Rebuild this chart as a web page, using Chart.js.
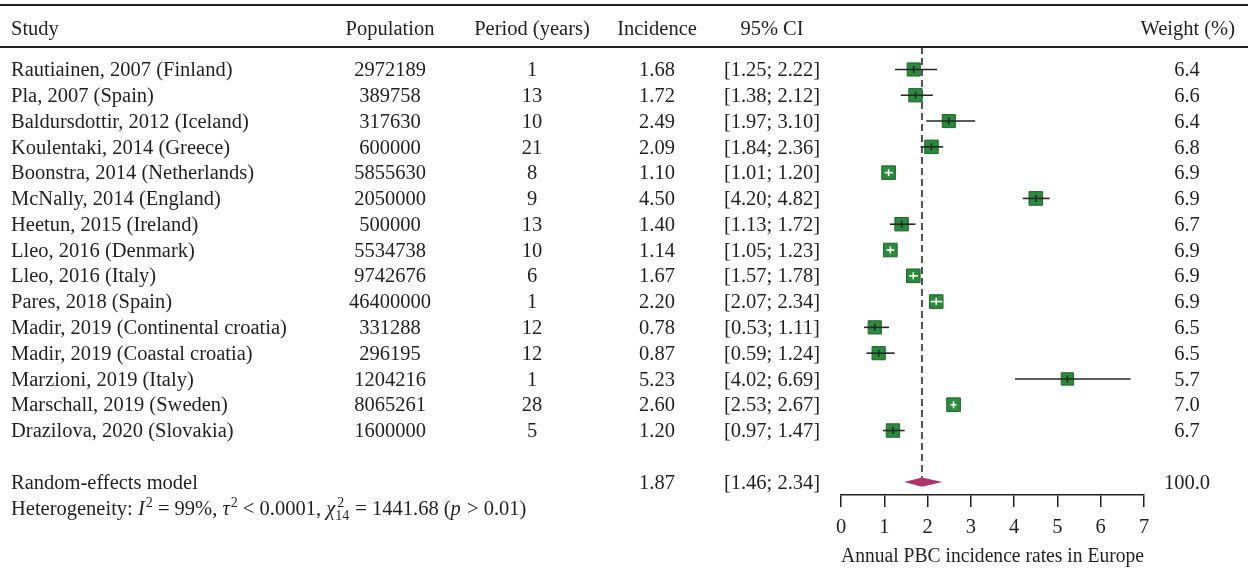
<!DOCTYPE html>
<html>
<head>
<meta charset="utf-8">
<title>Annual PBC incidence rates in Europe</title>
<script src="https://cdn.jsdelivr.net/npm/chart.js@4.4.1/dist/chart.umd.min.js"></script>
<style>
  html, body { margin: 0; padding: 0; background: #ffffff; }
  #wrap { width: 1248px; height: 569px; position: relative; }
  canvas { display: block; }
</style>
</head>
<body>
<div id="wrap"><canvas id="forest" width="1248" height="569"></canvas></div>
<script>
// ---- Study data ----
const studies = [
  'Rautiainen, 2007 (Finland)',
  'Pla, 2007 (Spain)',
  'Baldursdottir, 2012 (Iceland)',
  'Koulentaki, 2014 (Greece)',
  'Boonstra, 2014 (Netherlands)',
  'McNally, 2014 (England)',
  'Heetun, 2015 (Ireland)',
  'Lleo, 2016 (Denmark)',
  'Lleo, 2016 (Italy)',
  'Pares, 2018 (Spain)',
  'Madir, 2019 (Continental croatia)',
  'Madir, 2019 (Coastal croatia)',
  'Marzioni, 2019 (Italy)',
  'Marschall, 2019 (Sweden)',
  'Drazilova, 2020 (Slovakia)'
];
const populations = [2972189, 389758, 317630, 600000, 5855630, 2050000, 500000, 5534738, 9742676, 46400000, 331288, 296195, 1204216, 8065261, 1600000];
const periods = [1, 13, 10, 21, 8, 9, 13, 10, 6, 1, 12, 12, 1, 28, 5];
const incidence = [1.68, 1.72, 2.49, 2.09, 1.10, 4.50, 1.40, 1.14, 1.67, 2.20, 0.78, 0.87, 5.23, 2.60, 1.20];
const ciLower = [1.25, 1.38, 1.97, 1.84, 1.01, 4.20, 1.13, 1.05, 1.57, 2.07, 0.53, 0.59, 4.02, 2.53, 0.97];
const ciUpper = [2.22, 2.12, 3.10, 2.36, 1.20, 4.82, 1.72, 1.23, 1.78, 2.34, 1.11, 1.24, 6.69, 2.67, 1.47];
const weights = [6.4, 6.6, 6.4, 6.8, 6.9, 6.9, 6.7, 6.9, 6.9, 6.9, 6.5, 6.5, 5.7, 7.0, 6.7];

// ---- Pooled (random-effects) estimate ----
const pooledIncidence = 1.87;
const pooledLower = 1.46;
const pooledUpper = 2.34;
const pooledWeight = 100.0;

// ---- Axis ----
const xTicks = [0, 1, 2, 3, 4, 5, 6, 7];
const xTitle = 'Annual PBC incidence rates in Europe';
const headers = ['Study', 'Population', 'Period (years)', 'Incidence', '95% CI', 'Weight (%)'];

// ---- Layout / style ----
const FAMILY = "'Liberation Serif', 'Times New Roman', serif";
const FS = 20.5;
const TEXT = '#231f20';
const BOX_FILL = '#2b8a3b';
const BOX_EDGE = '#1e672b';
const DIAMOND = '#b0336a';
const COL = { study: 11, population: 390, period: 532, incidence: 657, ci: 772, weight: 1187, weightHeadRight: 1235 };
const ROW_TOP_RULE = -2.5, ROW_HEADER = -1.6, ROW_HEADER_RULE = -0.87;
const ROW_POOLED = studies.length + 1, ROW_HET = studies.length + 2;
const BASELINE_OFFSET = 6.7;

const boxSide = w => 5.18 * Math.sqrt(w);
const ciText = (lo, hi) => '[' + lo.toFixed(2) + '; ' + hi.toFixed(2) + ']';

Chart.defaults.font.family = FAMILY;
Chart.defaults.font.size = FS;
Chart.defaults.color = TEXT;

function line(ctx, x1, y1, x2, y2) {
  ctx.beginPath();
  ctx.moveTo(x1, y1);
  ctx.lineTo(x2, y2);
  ctx.stroke();
}

function drawRich(ctx, x, y, parts) {
  const base = FS + 'px ' + FAMILY;
  const ital = 'italic ' + FS + 'px ' + FAMILY;
  const small = '14px ' + FAMILY;
  for (const p of parts) {
    if (p.stack) {
      ctx.font = small;
      const w = Math.max(ctx.measureText(p.sup).width, ctx.measureText(p.sub).width);
      ctx.fillText(p.sup, x + 1, y - 8);
      ctx.fillText(p.sub, x - 1, y + 5);
      x += w;
      continue;
    }
    ctx.font = p.sup ? small : (p.it ? ital : base);
    ctx.fillText(p.t, x, y + (p.sup ? -8 : 0));
    x += ctx.measureText(p.t).width + (p.it ? 1 : 0);
  }
}

const forestPlugin = {
  id: 'forest',
  beforeDatasetsDraw(chart) {
    const { ctx } = chart;
    const xs = chart.scales.x, ys = chart.scales.y;
    // dashed line at the pooled estimate
    ctx.save();
    ctx.strokeStyle = '#4f4f4f';
    ctx.lineWidth = 2;
    ctx.setLineDash([7, 4]);
    const xp = xs.getPixelForValue(pooledIncidence);
    line(ctx, xp, ys.getPixelForValue(ROW_HEADER_RULE), xp, ys.getPixelForValue(ROW_POOLED - 0.17));
    ctx.restore();
  },
  afterDatasetsDraw(chart) {
    const { ctx } = chart;
    const xs = chart.scales.x, ys = chart.scales.y;
    ctx.save();
    ctx.lineWidth = 1.6;
    studies.forEach((_, i) => {
      const y = ys.getPixelForValue(i);
      const x1 = xs.getPixelForValue(ciLower[i]);
      const x2 = xs.getPixelForValue(ciUpper[i]);
      const xe = xs.getPixelForValue(incidence[i]);
      const inside = (x2 - x1) < boxSide(weights[i]);
      ctx.strokeStyle = inside ? '#ffffff' : '#262626';
      line(ctx, x1, y, x2, y);
      line(ctx, xe, y - 3.5, xe, y + 3.5);
    });
    // pooled diamond
    const yd = ys.getPixelForValue(ROW_POOLED);
    ctx.fillStyle = DIAMOND;
    ctx.beginPath();
    ctx.moveTo(xs.getPixelForValue(pooledLower), yd);
    ctx.lineTo(xs.getPixelForValue(pooledIncidence), yd - 4.6);
    ctx.lineTo(xs.getPixelForValue(pooledUpper), yd);
    ctx.lineTo(xs.getPixelForValue(pooledIncidence), yd + 4.6);
    ctx.closePath();
    ctx.fill();
    ctx.restore();
  },
  afterDraw(chart) {
    const { ctx, width } = chart;
    const ys = chart.scales.y;
    ctx.save();
    // table rules
    ctx.strokeStyle = TEXT;
    ctx.lineWidth = 2;
    const yTop = Math.round(ys.getPixelForValue(ROW_TOP_RULE));
    const yHead = Math.round(ys.getPixelForValue(ROW_HEADER_RULE));
    line(ctx, 0, yTop, width, yTop);
    line(ctx, 0, yHead, width, yHead);

    ctx.fillStyle = TEXT;
    ctx.textBaseline = 'alphabetic';
    ctx.font = FS + 'px ' + FAMILY;
    const put = (txt, x, row, align) => {
      ctx.textAlign = align;
      ctx.fillText(txt, x, ys.getPixelForValue(row) + BASELINE_OFFSET);
    };
    // header
    put(headers[0], COL.study, ROW_HEADER, 'left');
    put(headers[1], COL.population, ROW_HEADER, 'center');
    put(headers[2], COL.period, ROW_HEADER, 'center');
    put(headers[3], COL.incidence, ROW_HEADER, 'center');
    put(headers[4], COL.ci, ROW_HEADER, 'center');
    put(headers[5], COL.weightHeadRight, ROW_HEADER, 'right');
    // study rows
    studies.forEach((s, i) => {
      put(s, COL.study, i, 'left');
      put(String(populations[i]), COL.population, i, 'center');
      put(String(periods[i]), COL.period, i, 'center');
      put(incidence[i].toFixed(2), COL.incidence, i, 'center');
      put(ciText(ciLower[i], ciUpper[i]), COL.ci, i, 'center');
      put(weights[i].toFixed(1), COL.weight, i, 'center');
    });
    // pooled row
    put('Random-effects model', COL.study, ROW_POOLED, 'left');
    put(pooledIncidence.toFixed(2), COL.incidence, ROW_POOLED, 'center');
    put(ciText(pooledLower, pooledUpper), COL.ci, ROW_POOLED, 'center');
    put(pooledWeight.toFixed(1), COL.weight, ROW_POOLED, 'center');
    // heterogeneity
    ctx.textAlign = 'left';
    drawRich(ctx, COL.study, ys.getPixelForValue(ROW_HET) + BASELINE_OFFSET, [
      { t: 'Heterogeneity: ' },
      { t: 'I', it: true },
      { t: '2', sup: true },
      { t: ' = 99%, ' },
      { t: '\u03C4', it: true },
      { t: '2', sup: true },
      { t: ' < 0.0001, ' },
      { t: '\u03C7', it: true },
      { stack: true, sup: '2', sub: '14' },
      { t: ' = 1441.68 (' },
      { t: 'p', it: true },
      { t: ' > 0.01)' }
    ]);
    ctx.restore();
  }
};

new Chart(document.getElementById('forest'), {
  type: 'scatter',
  data: {
    datasets: [{
      data: incidence.map((v, i) => ({ x: v, y: i })),
      pointStyle: 'rect',
      pointRadius: c => boxSide(weights[c.dataIndex]) / Math.SQRT2,
      pointHoverRadius: c => boxSide(weights[c.dataIndex]) / Math.SQRT2,
      backgroundColor: BOX_FILL,
      borderColor: BOX_EDGE,
      borderWidth: 1
    }]
  },
  options: {
    responsive: false,
    animation: false,
    events: [],
    layout: { autoPadding: false, padding: { left: 841, right: 104, top: 5, bottom: 0 } },
    plugins: { legend: { display: false }, tooltip: { enabled: false } },
    scales: {
      x: {
        type: 'linear',
        position: 'bottom',
        min: 0,
        max: 7,
        afterBuildTicks: s => { s.ticks = xTicks.map(v => ({ value: v })); },
        afterFit: s => { s.height = 74; },
        grid: { drawOnChartArea: false, drawTicks: true, tickLength: 12, color: TEXT, lineWidth: 1.5 },
        border: { display: true, color: TEXT, width: 1.5 },
        ticks: { color: TEXT, padding: 8, font: { size: FS }, maxRotation: 0 },
        title: { display: true, text: xTitle, color: TEXT, font: { size: FS }, padding: { top: 0, bottom: 0 } }
      },
      y: {
        type: 'linear',
        reverse: true,
        min: -2.5,
        max: 16.5,
        display: false
      }
    }
  },
  plugins: [forestPlugin]
});
</script>
</body>
</html>
